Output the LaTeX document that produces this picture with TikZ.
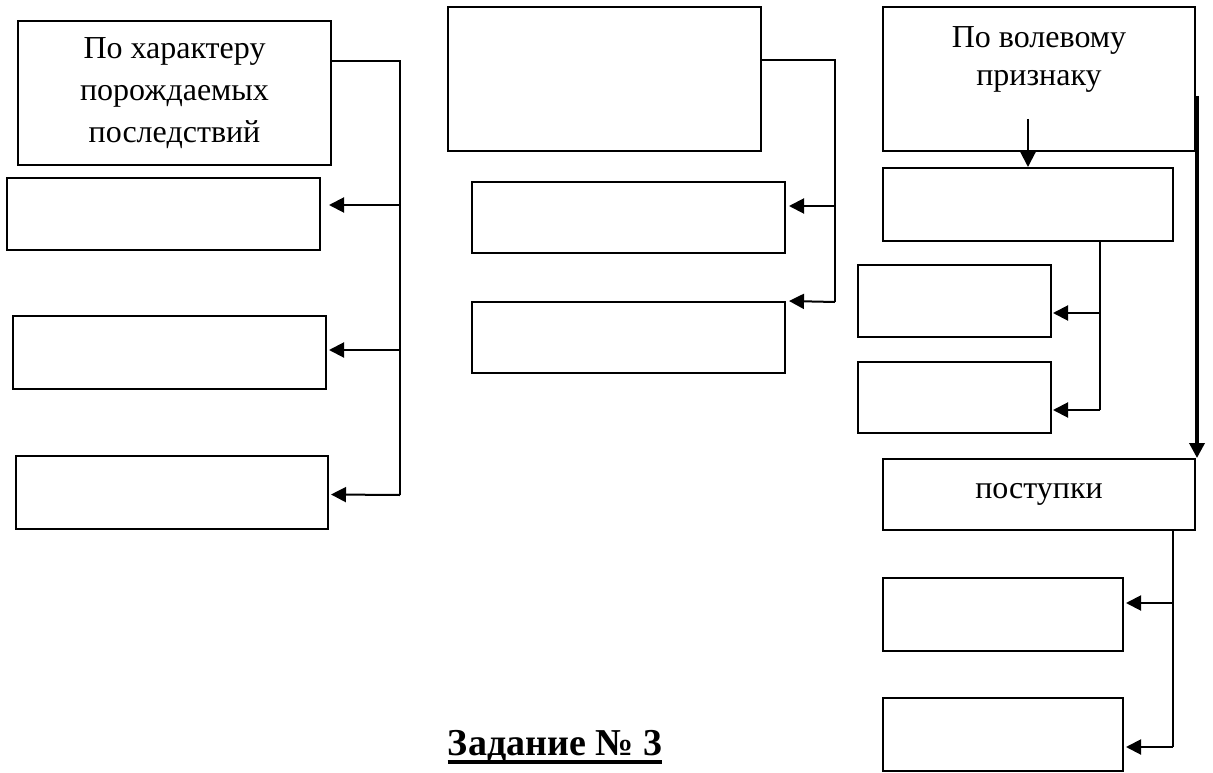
\documentclass[tikz,border=0pt]{standalone}
\usepackage{fontspec}
\setmainfont{Liberation Serif}
\usetikzlibrary{arrows.meta,positioning}

\begin{document}
\begin{tikzpicture}[x=1pt,y=-1pt,
  box/.style={draw,line width=2pt,inner sep=0pt,align=center,font=\fontsize{32}{42}\selectfont},
  link/.style={line width=2pt},
  arr/.style={line width=2pt,-{Triangle[length=15pt,width=15pt]}}]
\useasboundingbox (0,0) rectangle (1213,773);

% left column
\path (174.5,93)  node[box,minimum width=313pt,minimum height=144pt] (L0) {По характеру\\порождаемых\\последствий};
\path (163.5,214) node[box,minimum width=313pt,minimum height=72pt] (L1) {};
\path (169.5,352.5) node[box,minimum width=313pt,minimum height=73pt] (L2) {};
\path (172,492.5) node[box,minimum width=312pt,minimum height=73pt] (L3) {};

\coordinate (Ltop) at (400,61);
\coordinate (Lbot) at (400,495);
\draw[link] (L0.east |- Ltop) -- (Ltop) -- (Lbot);
\draw[arr] (Ltop |- 0,205) -- ([xshift=8pt,yshift=9pt]L1.east);
\draw[arr] (Ltop |- 0,350) -- ([xshift=2pt,yshift=2.5pt]L2.east);
\draw[arr] (Lbot) -- ([xshift=2pt,yshift=-2pt]L3.east);

% middle column
\path (604.5,79)  node[box,minimum width=313pt,minimum height=144pt] (M0) {};
\path (628.5,217.5) node[box,minimum width=313pt,minimum height=71pt] (M1) {};
\path (628.5,337.5) node[box,minimum width=313pt,minimum height=71pt] (M2) {};

\coordinate (Mtop) at (835,60);
\coordinate (Mbot) at (835,302);
\draw[link] (M0.east |- Mtop) -- (Mtop) -- (Mbot);
\draw[arr] (Mtop |- 0,206) -- ([xshift=3pt,yshift=11.5pt]M1.east);
\draw[arr] (Mbot) -- ([xshift=3pt]M2.north east);

% right column
\path (1039,79)   node[box,minimum width=312pt,minimum height=144pt] (R0) {};
\node[below=20pt of R0.north,align=center,inner sep=0pt,font=\fontsize{32}{38}\selectfont] (R0txt) {По волевому\\признаку};
\path (1028,204.5) node[box,minimum width=290pt,minimum height=73pt] (R1) {};
\path (954.5,301) node[box,minimum width=193pt,minimum height=72pt] (R2) {};
\path (954.5,397.5) node[box,minimum width=193pt,minimum height=71pt] (R3) {};
\path (1039,494.5) node[box,minimum width=312pt,minimum height=71pt] (R4) {поступки};
\path (1003,614.5) node[box,minimum width=240pt,minimum height=73pt] (R5) {};
\path (1003,734.5) node[box,minimum width=240pt,minimum height=73pt] (R6) {};

\coordinate (Rdown) at (1028,119);
\draw[arr] (Rdown) -- (R1.north);

\coordinate (R1top) at (1100,241);
\coordinate (R1bot) at (1100,410);
\draw[link] (R1top) -- (R1bot);
\draw[arr] (R1top |- 0,313) -- ([xshift=1pt,yshift=-12pt]R2.east);
\draw[arr] (R1bot) -- ([xshift=1pt,yshift=-12.5pt]R3.east);

\coordinate (Rlong) at (1197,96);
\draw[arr,line width=3.5pt] (Rlong) -- (R4.north east -| Rlong);

\coordinate (R4top) at (1173,530);
\coordinate (R4bot) at (1173,747);
\draw[link] (R4top) -- (R4bot);
\draw[arr] (R4top |- 0,603) -- ([xshift=2pt,yshift=11.5pt]R5.east);
\draw[arr] (R4bot) -- ([xshift=2pt,yshift=-12.5pt]R6.east);

% title
\path (555,755) node[anchor=base,font=\fontsize{38}{42}\selectfont\bfseries,inner sep=0pt] (title) {Задание №~3};
\draw[line width=3.5pt] ([yshift=-7pt]title.base west) -- ([yshift=-7pt]title.base east);
\end{tikzpicture}
\end{document}
